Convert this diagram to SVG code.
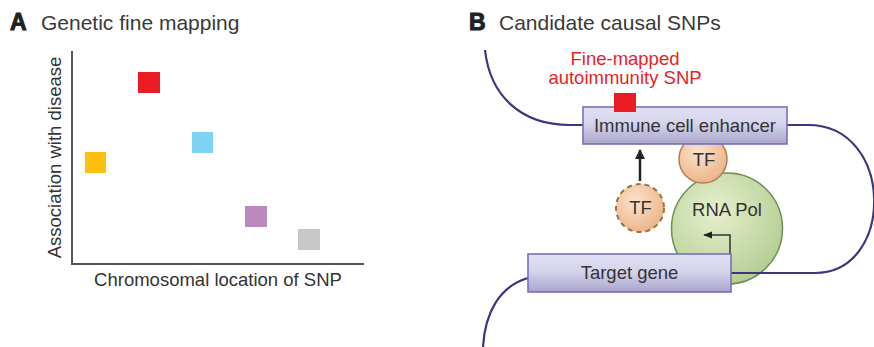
<svg xmlns="http://www.w3.org/2000/svg" width="874" height="347" viewBox="0 0 874 347">
<defs>
<linearGradient id="boxg" x1="0" y1="0" x2="0" y2="1">
<stop offset="0" stop-color="#e2e0f3"/>
<stop offset="0.45" stop-color="#d6d4ec"/>
<stop offset="1" stop-color="#a9a5cb"/>
</linearGradient>
<radialGradient id="tfg" cx="0.4" cy="0.35" r="0.7">
<stop offset="0" stop-color="#fbe3cd"/>
<stop offset="1" stop-color="#ebb287"/>
</radialGradient>
<radialGradient id="polg" cx="0.4" cy="0.35" r="0.75">
<stop offset="0" stop-color="#e6f0cd"/>
<stop offset="1" stop-color="#b0c98e"/>
</radialGradient>
<marker id="ah" viewBox="0 0 10 10" refX="9" refY="5" markerWidth="4" markerHeight="4" orient="auto">
<path d="M0,0 L10,5 L0,10 z" fill="#222"/>
</marker>
<marker id="ah2" viewBox="0 0 10 10" refX="9" refY="5" markerWidth="6" markerHeight="6" orient="auto">
<path d="M0,1 L10,5 L0,9 z" fill="#222"/>
</marker>
</defs>
<style>
text{font-family:"Liberation Sans",Arial,sans-serif;fill:#333}
.title{font-size:21px;fill:#3a3a3a}
.letter{font-size:23px;font-weight:bold;fill:#222;stroke:#222;stroke-width:1}
.lbl{font-size:18.5px}
.red{fill:#e8231f}
.axis{stroke:#555;stroke-width:2;fill:none}
.dna{stroke:#3b367f;stroke-width:2.2;fill:none}
.box{fill:url(#boxg);stroke:#7671bd;stroke-width:1.6}
</style>

<!-- Panel A -->
<g id="panelA-title">
<text class="letter" x="10" y="30">A</text>
<text class="title" x="41" y="30">Genetic fine mapping</text>
</g>
<g id="axes">
<path class="axis" d="M72,51 V264 H364"/>
<text class="lbl" x="218" y="286" text-anchor="middle">Chromosomal location of SNP</text>
<text class="lbl" transform="translate(61,157.5) rotate(-90)" text-anchor="middle">Association with disease</text>
</g>
<g id="snp-yellow"><rect x="85" y="152" width="21" height="21" fill="#fdc010"/></g>
<g id="snp-red"><rect x="138" y="72" width="22" height="21" fill="#ec1c24"/></g>
<g id="snp-blue"><rect x="192" y="132" width="21" height="21" fill="#7fd3f5"/></g>
<g id="snp-purple"><rect x="245" y="206" width="22" height="21" fill="#bb88bd"/></g>
<g id="snp-gray"><rect x="298" y="229" width="22" height="21" fill="#c6c7c9"/></g>

<!-- Panel B -->
<g id="panelB-title">
<text class="letter" x="469" y="30">B</text>
<text class="title" x="499" y="30">Candidate causal SNPs</text>
</g>

<g id="rnapol">
<circle cx="727" cy="228.5" r="55.5" fill="url(#polg)" stroke="#6f8f50" stroke-width="1.5"/>
<text class="lbl" x="727" y="216" text-anchor="middle">RNA Pol</text>
</g>
<g id="tf-bound">
<circle cx="703" cy="159" r="24" fill="url(#tfg)" stroke="#b07e55" stroke-width="1.5"/>
<text class="lbl" x="704" y="166" text-anchor="middle">TF</text>
</g>
<g id="tf-free">
<circle cx="640" cy="208" r="24" fill="url(#tfg)" stroke="#9b7336" stroke-width="2" stroke-dasharray="5,4"/>
<text class="lbl" x="640.5" y="214" text-anchor="middle">TF</text>
</g>

<g id="connectors">
<path class="dna" d="M485,50 C490,95 520,125 570,125 H584"/>
<path class="dna" d="M787,125 H808 C895,125 895,273 815,273 H731"/>
<path class="dna" d="M528,278 C500,286 485,312 483,347"/>
<line x1="640" y1="181" x2="640" y2="150" stroke="#222" stroke-width="2.5" marker-end="url(#ah)"/>
<path d="M730,254 V235 H704" fill="none" stroke="#333" stroke-width="1.5" marker-end="url(#ah2)"/>
</g>

<g id="enhancer">
<rect class="box" x="583" y="107" width="204" height="37"/>
<text class="lbl" x="685" y="132" text-anchor="middle">Immune cell enhancer</text>
</g>
<g id="snp-causal">
<rect x="614" y="93" width="22" height="19" fill="#ec1c24"/>
<text class="lbl red" x="625" y="65" text-anchor="middle">Fine-mapped</text>
<text class="lbl red" x="625" y="84" text-anchor="middle">autoimmunity SNP</text>
</g>
<g id="target-gene">
<rect class="box" x="528" y="254" width="203" height="38"/>
<text class="lbl" x="629.5" y="279" text-anchor="middle">Target gene</text>
</g>
</svg>
